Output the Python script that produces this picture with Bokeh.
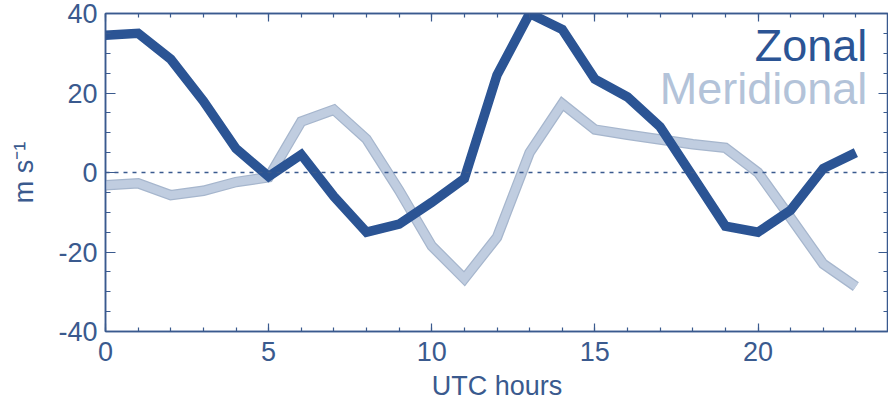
from bokeh.plotting import figure
from bokeh.models import (Range1d, LinearAxis, Label, Span, SingleIntervalTicker,
                          CustomJSTickFormatter)
from bokeh.embed import file_html
from bokeh.resources import INLINE

hours = list(range(24))
zonal = [34.5, 35, 28.5, 18, 6, -1, 4.5, -6, -15, -13, -7.5, -1.5,
         24.5, 40, 36, 23.5, 19, 11.5, -1, -13.5, -15, -9.5, 1, 5]
meridional = [-3.2, -2.7, -5.7, -4.6, -2.4, -1.2, 12.8, 15.8, 8.4, -4.5, -18.5, -26.7,
              -16.3, 5, 17.3, 10.8, 9.5, 8.3, 7.1, 6.2, 0, -11.4, -23, -28.7]
series_names = ["Zonal", "Meridional"]

DARK = "#2b5494"
LIGHT = "#c0cde0"
LIGHT_EDGE = "#a6b6cd"
LIGHT_TEXT = "#b3c3d9"
AXC = "#3a5a8e"
FONT = "Liberation Sans"

p = figure(width=888, height=403, output_backend="svg", toolbar_location=None,
           x_range=Range1d(0, 24), y_range=Range1d(-40, 40),
           x_axis_location=None, y_axis_location=None,
           min_border_left=105, min_border_right=0, min_border_top=13, min_border_bottom=10)
p.grid.visible = False
p.outline_line_color = AXC
p.outline_line_width = 1.5

blank = CustomJSTickFormatter(code="return ''")
hyphen = CustomJSTickFormatter(code="return String(tick)")

def style(ax, labels=True, major_in=10, minor_in=5):
    ax.axis_line_color = AXC
    ax.axis_line_width = 1.5
    ax.major_tick_line_color = AXC
    ax.minor_tick_line_color = AXC
    ax.major_tick_line_width = 1.2
    ax.minor_tick_line_width = 1.2
    ax.major_tick_in = major_in
    ax.major_tick_out = 0
    ax.minor_tick_in = minor_in
    ax.minor_tick_out = 0
    ax.major_label_text_font = FONT
    ax.major_label_text_font_size = "27px"
    ax.major_label_text_color = AXC
    ax.axis_label_text_font = FONT
    ax.axis_label_text_font_size = "27px"
    ax.axis_label_text_font_style = "normal"
    ax.axis_label_text_color = AXC
    if labels:
        ax.formatter = hyphen
    else:
        ax.formatter = blank
        ax.major_label_standoff = 0

xt = SingleIntervalTicker(interval=5, num_minor_ticks=5)
yt = SingleIntervalTicker(interval=20, num_minor_ticks=4)

xb = LinearAxis(ticker=xt, axis_label="UTC hours")
style(xb, major_in=8, minor_in=4)
xb.major_label_standoff = 10
xb.axis_label_standoff = 7
p.add_layout(xb, "below")

xa = LinearAxis(ticker=xt)
style(xa, labels=False, major_in=8, minor_in=4)
p.add_layout(xa, "above")

yl = LinearAxis(ticker=yt, axis_label="m s⁻¹")
style(yl)
yl.major_label_standoff = 8
yl.axis_label_standoff = 16
p.add_layout(yl, "left")

yr = LinearAxis(ticker=yt)
style(yr, labels=False)
p.add_layout(yr, "right")

p.add_layout(Span(location=0, dimension="width", line_color=AXC,
                  line_width=1.3, line_dash="4 5"))

p.line(hours, meridional, line_color=LIGHT_EDGE, line_width=10.5, line_join="miter")
p.line(hours, meridional, line_color=LIGHT, line_width=8, line_join="miter")
p.line(hours, zonal, line_color=DARK, line_width=9.5, line_join="miter")

p.add_layout(Label(x=23.35, y=32.0, text=series_names[0], text_align="right",
                   text_baseline="alphabetic", text_font=FONT, text_font_size="45px",
                   text_color=DARK))
p.add_layout(Label(x=23.35, y=21.2, text=series_names[1], text_align="right",
                   text_baseline="alphabetic", text_font=FONT, text_font_size="45px",
                   text_color=LIGHT_TEXT))

open("out.html", "w").write(file_html(p, INLINE))
